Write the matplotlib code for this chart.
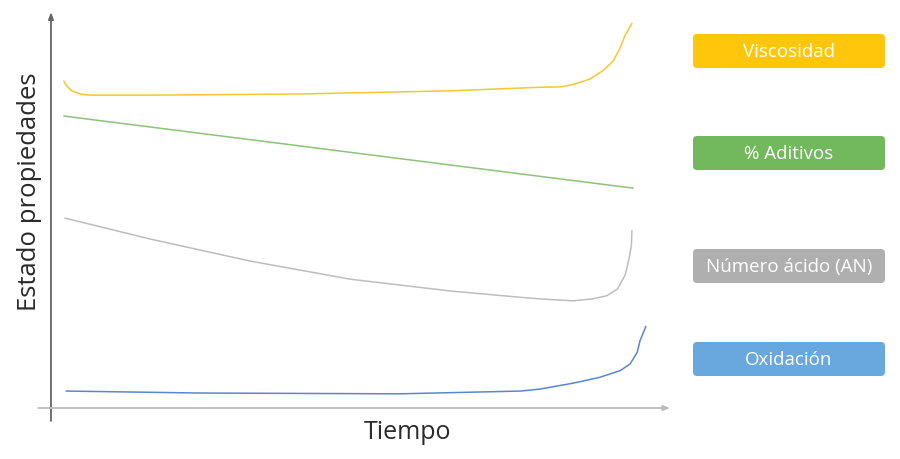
import numpy as np
import matplotlib.pyplot as plt
from matplotlib.patches import FancyBboxPatch

# ---- data (time 0..100, property 0..100) ----
visc_t = [2.2, 2.7, 3.6, 5.0, 6.7, 17.0, 42.8, 68.6, 84.0, 87.5, 89.7, 92.6, 94.8, 96.6, 97.8, 98.6, 99.8]
visc_v = [83.0, 81.7, 80.5, 79.7, 79.4, 79.4, 79.7, 80.5, 81.4, 81.5, 82.1, 83.5, 85.6, 88.1, 91.5, 94.5, 97.6]

adit_t = [2.2, 100.0]
adit_v = [74.1, 55.8]

an_t = [2.4, 17.0, 34.2, 51.4, 68.6, 80.6, 84.0, 89.7, 93.1, 95.5, 97.3, 98.6, 99.3, 99.7, 99.8]
an_v = [48.2, 42.9, 37.3, 32.7, 29.7, 28.1, 27.7, 27.2, 27.7, 28.5, 30.2, 33.6, 37.8, 41.2, 45.0]

oxi_t = [2.6, 25.6, 60.0, 80.6, 84.0, 89.7, 94.3, 97.8, 99.5, 100.7, 101.2, 102.2]
oxi_v = [4.3, 3.8, 3.6, 4.3, 4.8, 6.3, 7.8, 9.5, 11.2, 14.1, 17.1, 20.7]

labels = ["Viscosidad", "% Aditivos", "Número ácido (AN)", "Oxidación"]
line_colors = ["#F7C630", "#8DC27C", "#BDBDBD", "#5A86D0"]
box_colors = ["#FFC60B", "#72B85D", "#AFAFAF", "#69A8DE"]

plt.rcParams['font.family'] = ['Open Sans', 'DejaVu Sans']

fig = plt.figure(figsize=(9, 4.6), dpi=100)
ax = fig.add_axes([38 / 900, 35 / 460, 637 / 900, 413 / 460])
ax.set_xlim(-2.23, 107.2)
ax.set_ylim(-4.06, 100.76)
ax.axis("off")

series = [(visc_t, visc_v), (adit_t, adit_v), (an_t, an_v), (oxi_t, oxi_v)]
for (t, v), c in zip(series, line_colors):
    ax.plot(t, v, color=c, linewidth=1.1, solid_capstyle="round", solid_joinstyle="round")

# axes with arrow heads
ax.annotate("", xy=(0, 100.5), xytext=(0, -3.3),
            arrowprops=dict(arrowstyle="-|>,head_length=0.4,head_width=0.15",
                            color="#666666", lw=1.3, shrinkA=0, shrinkB=0))
ax.annotate("", xy=(106.4, 0), xytext=(-2.2, 0),
            arrowprops=dict(arrowstyle="-|>,head_length=0.4,head_width=0.15",
                            color="#BBBBBB", lw=1.3, shrinkA=0, shrinkB=0))

fig.text(30 / 900, 1 - 192 / 460, "Estado propiedades", rotation=90,
         ha="center", va="center", fontsize=18.5, color="#2A2A2A")
fig.text(407 / 900, 1 - 433 / 460, "Tiempo", ha="center", va="center",
         fontsize=18, color="#2A2A2A")

# legend boxes on the right
lg = fig.add_axes([0, 0, 1, 1])
lg.set_xlim(0, 900)
lg.set_ylim(460, 0)
lg.axis("off")
centers = [52, 154, 267, 360]
for lab, col, cy in zip(labels, box_colors, centers):
    lg.add_patch(FancyBboxPatch((693, cy - 17), 192, 34,
                                boxstyle="round,pad=0,rounding_size=4",
                                facecolor=col, edgecolor="none"))
    lg.text(789, cy, lab, ha="center", va="center", color="white", fontsize=13.5)

fig.savefig("out.png", dpi=100)
